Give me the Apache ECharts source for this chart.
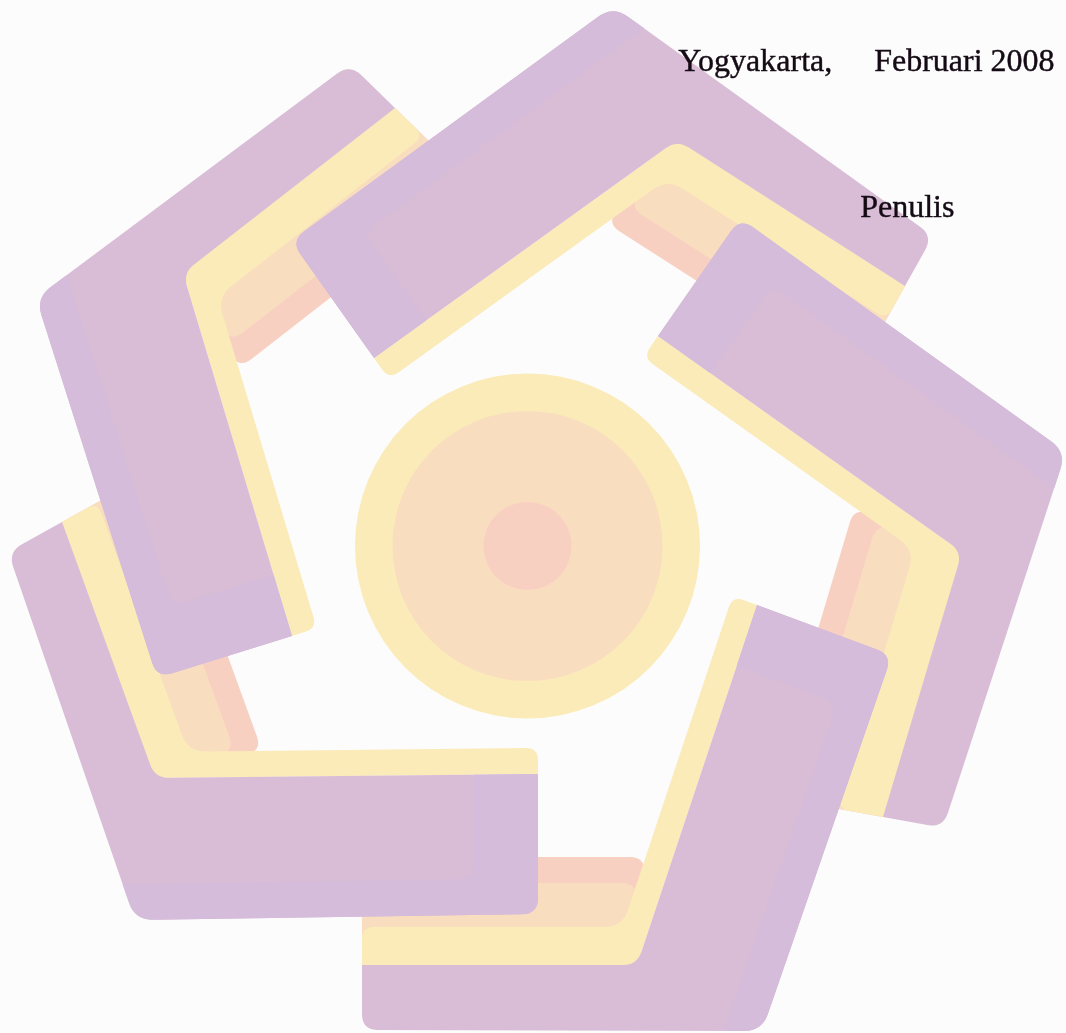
<!DOCTYPE html>
<html>
<head>
<meta charset="utf-8">
<title>Logo</title>
<script src="https://cdn.jsdelivr.net/npm/echarts@6/dist/echarts.min.js"></script>
<style>
  html, body { margin: 0; padding: 0; background: #fcfcfc; }
  #main { width: 1066px; height: 1033px; }
</style>
</head>
<body>
<div id="main"></div>
<script>
// five arms of the logo, clockwise starting at the top one
var armNames      = ['top', 'upperLeft', 'lowerLeft', 'bottom', 'right'];
var apex          = [[613, 6],   [36, 298],  [135, 920], [762, 1031], [1066, 452]];
var thickEndOuter = [[291, 241], [157, 678], [538, 914], [892, 655],  [740, 218]];
var thickEndInner = [[374, 358], [292, 636], [538, 774], [757, 605],  [658, 336]];
var thinEndOuter  = [[933, 236], [350, 64],  [8, 552],   [362, 1030], [943, 828]];
var thinEndInner  = [[905, 286], [395, 108], [62, 522],  [362, 965],  [883, 817]];
var innerCorner   = [[677, 140], [183, 273], [155, 778], [637, 965],  [962, 552]];

// the sun in the middle
var circleCenter = [527.5, 546];
var circleRadius = [172.5, 135, 44];

var dateParts = ['Yogyakarta,', 'Februari 2008'];
var signature = ['Penulis'];

// colours
var LILAC = '#d9bdd6', LILAC_EDGE = '#d4bcda';
var YELLOW = '#fbebb9', PEACH = '#f9ddbf', SALMON = '#f8d0c2';
var circleColors = [YELLOW, PEACH, SALMON];

// band widths (yellow on the thin leg differs a little per arm)
var WY1 = 26, WP = 44, WS = 26, WB = 36, CAPW = 64;
var WY2 = [38, 40, 40, 38, 46];

function add(a, b) { return [a[0] + b[0], a[1] + b[1]]; }
function sub(a, b) { return [a[0] - b[0], a[1] - b[1]]; }
function mul(a, k) { return [a[0] * k, a[1] * k]; }
function dot(a, b) { return a[0] * b[0] + a[1] * b[1]; }
function cross(a, b) { return a[0] * b[1] - a[1] * b[0]; }
function len(a) { return Math.sqrt(a[0] * a[0] + a[1] * a[1]); }
function unit(a) { var l = len(a); return [a[0] / l, a[1] / l]; }
function meet(p, d, q, e) {
  var t = cross(sub(q, p), e) / cross(d, e);
  return add(p, mul(d, t));
}
function normalTo(dir, toward) {
  var n = [-dir[1], dir[0]];
  return dot(n, toward) < 0 ? mul(n, -1) : n;
}

// cut corners with a small curve
function rounded(pts, radii) {
  var out = [], n = pts.length;
  for (var i = 0; i < n; i++) {
    var P = pts[i], r = radii[i];
    if (!r) { out.push(P); continue; }
    var a = sub(pts[(i - 1 + n) % n], P), b = sub(pts[(i + 1) % n], P);
    var la = len(a), lb = len(b);
    var k = Math.min(r, la / 2, lb / 2);
    var s = add(P, mul(a, k / la)), e = add(P, mul(b, k / lb));
    for (var j = 0; j <= 8; j++) {
      var t = j / 8;
      out.push([
        (1 - t) * (1 - t) * s[0] + 2 * (1 - t) * t * P[0] + t * t * e[0],
        (1 - t) * (1 - t) * s[1] + 2 * (1 - t) * t * P[1] + t * t * e[1]
      ]);
    }
  }
  return out;
}

var salmonLayer = [], peachLayer = [], yellowLayer = [], lilacLayer = [];

armNames.forEach(function (name, k) {
  var A = apex[k], Eo = thickEndOuter[k], Ei = thickEndInner[k];
  var Fo = thinEndOuter[k], Fi = thinEndInner[k], I = innerCorner[k];
  var wy2 = WY2[k];
  var u1 = unit(sub(Ei, I)), u2 = unit(sub(Fi, I));
  var toC = sub(circleCenter, I);
  var n1 = normalTo(u1, toC), n2 = normalTo(u2, toC);
  var capT = unit(sub(Ei, Eo)), capN = unit(sub(Fi, Fo));
  function off1(w) { return add(I, mul(n1, w)); }
  function off2(w) { return add(I, mul(n2, w)); }
  function endT(w) { return add(Ei, mul(capT, w / dot(capT, n1))); }
  function endN(w) { return add(Fi, mul(capN, w / dot(capN, n2))); }

  var Y = meet(off1(WY1), u1, off2(wy2), u2);
  var P = meet(off1(WY1), u1, off2(wy2 + WP), u2);
  var S = meet(off1(WY1), u1, off2(wy2 + WP + WS), u2);

  salmonLayer.push({ pts: rounded([I, S, endN(wy2 + WP + WS), Fi], [0, 16, 0, 0]), color: SALMON });
  peachLayer.push({ pts: rounded([I, P, endN(wy2 + WP), Fi], [0, 16, 0, 0]), color: PEACH });
  yellowLayer.push({
    pts: rounded([Ei, endT(WY1), Y, endN(wy2), Fi, I], [0, 12, 18, 12, 0, 0]),
    color: YELLOW
  });

  lilacLayer.push({
    pts: rounded([Eo, A, Fo, Fi, I, Ei], [16, 18, 16, 0, 14, 0]),
    color: LILAC
  });

  // bluish rim along the outer edge and the end of the thick leg
  var uo = unit(sub(A, Eo));
  var no = normalTo(uo, sub(I, A));
  var Ci = add(Ei, mul(unit(sub(I, Ei)), CAPW));
  var Q = meet(Ci, capT, add(A, mul(no, WB)), uo);
  var A2 = meet(add(A, mul(no, WB)), uo, A, unit(sub(Fo, A)));
  lilacLayer.push({
    pts: rounded([A, Eo, Ei, Ci, Q, A2], [18, 16, 0, 0, 14, 0]),
    color: LILAC_EDGE
  });
});

var shapes = [];
circleRadius.forEach(function (r, i) {
  shapes.push({ circle: true, c: circleCenter, r: r, color: circleColors[i] });
});
shapes = shapes.concat(salmonLayer, peachLayer, yellowLayer, lilacLayer);

var chart = echarts.init(document.getElementById('main'), null, { renderer: 'canvas' });

var textStyle = { font: '32px "Liberation Serif"', fill: '#140a14', stroke: '#140a14', lineWidth: 0.4 };

chart.setOption({
  backgroundColor: '#fcfcfc',
  animation: false,
  grid: { left: 0, right: 0, top: 0, bottom: 0 },
  xAxis: { type: 'value', min: 0, max: 1066, show: false },
  yAxis: { type: 'value', min: 0, max: 1033, inverse: true, show: false },
  series: [{
    type: 'custom',
    silent: true,
    clip: false,
    z: 1,
    encode: { x: 0, y: 1 },
    data: shapes.map(function (s, i) {
      var p = s.circle ? s.c : s.pts[0];
      return [p[0], p[1], i];
    }),
    renderItem: function (params, api) {
      var s = shapes[api.value(2)];
      if (s.circle) {
        var c = api.coord(s.c);
        return {
          type: 'circle',
          shape: { cx: c[0], cy: c[1], r: api.size([s.r, 0])[0] },
          style: { fill: s.color }
        };
      }
      return {
        type: 'polygon',
        shape: { points: s.pts.map(function (p) { return api.coord(p); }) },
        style: { fill: s.color }
      };
    }
  }],
  graphic: {
    elements: [
      { type: 'text', left: 678, top: 46, z: 100, silent: true,
        style: Object.assign({ text: dateParts[0] }, textStyle) },
      { type: 'text', left: 874, top: 46, z: 100, silent: true,
        style: Object.assign({ text: dateParts[1] }, textStyle) },
      { type: 'text', left: 860, top: 192, z: 100, silent: true,
        style: Object.assign({ text: signature[0] }, textStyle) }
    ]
  }
});
</script>
</body>
</html>
